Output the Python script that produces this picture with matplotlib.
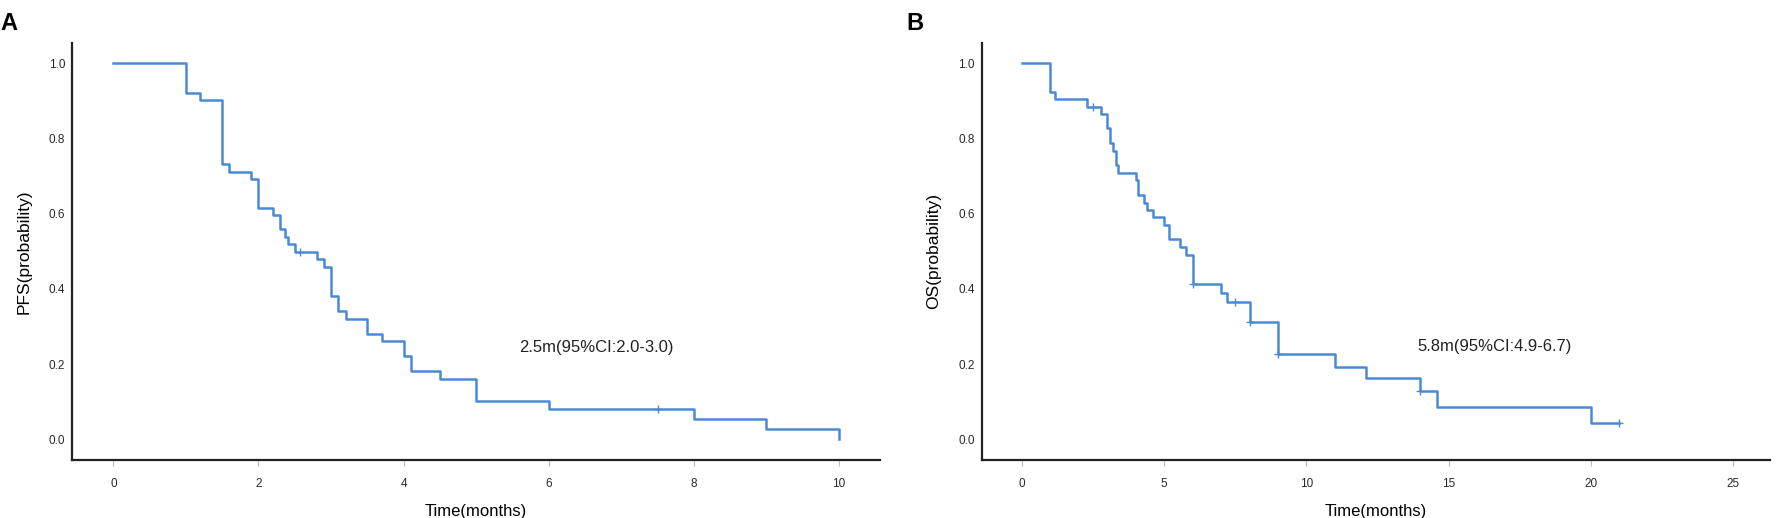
import numpy as np
import matplotlib
matplotlib.use("Agg")
import matplotlib.pyplot as plt

plt.rcParams['font.family'] = ['Liberation Sans', 'DejaVu Sans']

# Panel A: PFS Kaplan-Meier steps (time in months, survival probability)
pfs_time = [0, 1.0, 1.2, 1.5, 1.6, 1.9, 2.0, 2.2, 2.3, 2.36, 2.4, 2.5, 2.8, 2.9,
            3.0, 3.1, 3.2, 3.5, 3.7, 4.0, 4.1, 4.5, 5.0, 6.0, 8.0, 9.0, 10.0]
pfs_prob = [1.0, 0.922, 0.902, 0.732, 0.712, 0.692, 0.616, 0.597, 0.558, 0.539, 0.519,
            0.499, 0.480, 0.459, 0.381, 0.340, 0.320, 0.281, 0.261, 0.222, 0.182, 0.161,
            0.101, 0.081, 0.053, 0.027, 0.0]
pfs_censor_t = [2.57, 7.5]
pfs_censor_p = [0.499, 0.081]

# Panel B: OS Kaplan-Meier steps
os_time = [0, 1.0, 1.15, 2.28, 2.77, 3.0, 3.08, 3.2, 3.29, 3.37, 4.0, 4.09, 4.29, 4.4,
           4.61, 5.0, 5.18, 5.57, 5.78, 6.0, 7.0, 7.2, 8.0, 9.0, 11.0, 12.1, 14.0, 14.6,
           20.0, 21.0]
os_prob = [1.0, 0.923, 0.904, 0.885, 0.864, 0.827, 0.787, 0.768, 0.730, 0.709, 0.690,
           0.650, 0.629, 0.610, 0.590, 0.570, 0.532, 0.512, 0.490, 0.412, 0.388, 0.364,
           0.311, 0.227, 0.193, 0.162, 0.129, 0.087, 0.043, 0.043]
os_censor_t = [2.5, 6.0, 7.48, 8.0, 9.0, 14.0, 21.0]
os_censor_p = [0.885, 0.412, 0.364, 0.311, 0.227, 0.129, 0.043]

panels = [
    dict(letter="A", ylabel="PFS(probability)", t=pfs_time, p=pfs_prob,
         ct=pfs_censor_t, cp=pfs_censor_p, xticks=[0, 2, 4, 6, 8, 10],
         xlim=(-0.57, 10.57), note="2.5m(95%CI:2.0-3.0)", note_xy=(6.66, 0.243),
         rect=[0.0402, 0.112, 0.451, 0.805], letter_x=0.0),
    dict(letter="B", ylabel="OS(probability)", t=os_time, p=os_prob,
         ct=os_censor_t, cp=os_censor_p, xticks=[0, 5, 10, 15, 20, 25],
         xlim=(-1.42, 26.3), note="5.8m(95%CI:4.9-6.7)", note_xy=(16.6, 0.246),
         rect=[0.5478, 0.112, 0.44, 0.805], letter_x=0.506),
]

color = "#4a8ad4"
fig = plt.figure(figsize=(17.92, 5.18), dpi=100)

for pn in panels:
    ax = fig.add_axes(pn["rect"])
    ax.step(pn["t"], pn["p"], where="post", color=color, lw=1.8)
    ax.plot(pn["ct"], pn["cp"], ls="none", marker="+", ms=6, mew=1.0, color=color)
    ax.set_xlim(*pn["xlim"])
    ax.set_ylim(-0.055, 1.054)
    ax.set_xticks(pn["xticks"])
    ax.set_yticks([0.0, 0.2, 0.4, 0.6, 0.8, 1.0])
    ax.set_yticklabels(["0.0", "0.2", "0.4", "0.6", "0.8", "1.0"])
    for s in ["top", "right"]:
        ax.spines[s].set_visible(False)
    for s in ["left", "bottom"]:
        ax.spines[s].set_linewidth(1.6)
        ax.spines[s].set_color("#222222")
    ax.tick_params(axis="x", length=4, width=0.8, color="#bbbbbb", pad=9,
                   labelsize=8.5, labelcolor="#2a2a2a")
    ax.tick_params(axis="y", length=0, pad=5, labelsize=8.5, labelcolor="#2a2a2a")
    ax.set_xlabel("Time(months)", fontsize=12, labelpad=10)
    ax.set_ylabel(pn["ylabel"], fontsize=12.5, labelpad=12)
    ax.text(pn["note_xy"][0], pn["note_xy"][1], pn["note"], fontsize=12,
            ha="center", va="center", color="#222222")
    fig.text(pn["letter_x"], 0.955, pn["letter"], fontsize=17, fontweight="bold",
             ha="left", va="center")

fig.savefig("out.png", dpi=100)
